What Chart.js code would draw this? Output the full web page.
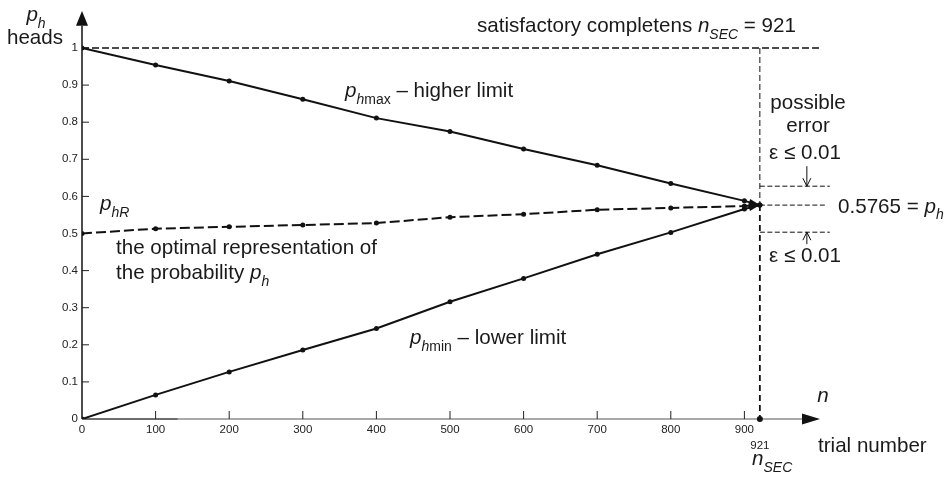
<!DOCTYPE html>
<html><head><meta charset="utf-8">
<script src="https://cdn.jsdelivr.net/npm/chart.js@4.4.1/dist/chart.umd.min.js"></script>
<style>html,body{margin:0;padding:0;background:#fff;}#wrap{width:950px;height:478px;}</style>
</head><body><div id="wrap"><canvas id="c" width="950" height="478"></canvas></div>
<script>
const trialNumbers = [0, 100, 200, 300, 400, 500, 600, 700, 800, 900, 921];
const phMax = [1, 0.954, 0.911, 0.862, 0.811, 0.775, 0.728, 0.684, 0.635, 0.588, 0.5765];
const phR   = [0.5, 0.513, 0.518, 0.523, 0.528, 0.544, 0.552, 0.564, 0.569, 0.574, 0.5765];
const phMin = [0, 0.065, 0.127, 0.186, 0.244, 0.316, 0.379, 0.444, 0.503, 0.566, 0.5765];
const xTickLabels = ['0', '100', '200', '300', '400', '500', '600', '700', '800', '900'];
const yTickLabels = ['0', '0.1', '0.2', '0.3', '0.4', '0.5', '0.6', '0.7', '0.8', '0.9', '1'];
const nSEC = 921;
const phFinal = 0.5765;
const epsLabel = 'ε ≤ 0.01';

const F = '"Liberation Sans", Arial, Helvetica, sans-serif';
const INK = '#111';

function pts(arr) { return trialNumbers.map((x, i) => ({x: x, y: arr[i]})); }

function rich(ctx, parts, x, y, size, align) {
  const sub = size * 0.68;
  const setF = p => { ctx.font = (p.i ? 'italic ' : '') + (p.sub ? sub : size) + 'px ' + F; };
  const widths = parts.map(p => { setF(p); return ctx.measureText(p.t).width; });
  const total = widths.reduce((a, b) => a + b, 0);
  let cx = align === 'center' ? x - total / 2 : (align === 'right' ? x - total : x);
  ctx.textAlign = 'left';
  ctx.textBaseline = 'alphabetic';
  const base = y + size * 0.36;
  parts.forEach((p, k) => {
    setF(p);
    ctx.fillText(p.t, cx, base + (p.sub ? size * 0.3 : 0));
    cx += widths[k];
  });
}

function line(ctx, x1, y1, x2, y2, w, color, dash) {
  ctx.save();
  ctx.beginPath();
  ctx.lineWidth = w;
  ctx.strokeStyle = color;
  ctx.setLineDash(dash || []);
  ctx.moveTo(x1, y1); ctx.lineTo(x2, y2);
  ctx.stroke();
  ctx.restore();
}

function tri(ctx, tx, ty, bx, by, half) {
  const dx = tx - bx, dy = ty - by, L = Math.hypot(dx, dy);
  const nx = -dy / L, ny = dx / L;
  ctx.beginPath();
  ctx.moveTo(tx, ty);
  ctx.lineTo(bx + nx * half, by + ny * half);
  ctx.lineTo(bx - nx * half, by - ny * half);
  ctx.closePath();
  ctx.fill();
}

const deco = {
  id: 'deco',
  beforeDatasetsDraw(chart) {
    const ctx = chart.ctx, xs = chart.scales.x, ys = chart.scales.y;
    const x0 = xs.getPixelForValue(0), y0 = ys.getPixelForValue(0);
    const xN = xs.getPixelForValue(nSEC), y1 = ys.getPixelForValue(1);
    const yP = ys.getPixelForValue(phFinal);
    const xEnd = xs.getPixelForValue(1000);
    ctx.save();
    // x axis
    line(ctx, x0, y0, xEnd - 16, y0, 1.5, '#8c8c8c');
    line(ctx, x0, y0, xs.getPixelForValue(130), y0, 1, '#333');
    ctx.fillStyle = INK;
    tri(ctx, xEnd + 2, y0, xEnd - 16, y0, 5.5);
    // y axis
    line(ctx, x0, y0, x0, ys.getPixelForValue(1.06), 1.5, INK);
    tri(ctx, x0, ys.getPixelForValue(1.1), x0, ys.getPixelForValue(1.06), 6);
    // ticks inside
    for (let i = 1; i < xTickLabels.length; i++) {
      const px = xs.getPixelForValue(i * 100);
      line(ctx, px, y0, px, y0 - 8, 1, '#222');
    }
    for (let i = 1; i < yTickLabels.length; i++) {
      const py = ys.getPixelForValue(i / 10);
      line(ctx, x0, py, x0 + 7, py, 1, '#222');
    }
    // horizontal dashed at 1
    line(ctx, x0, y1, xEnd + 2, y1, 1.5, INK, [7, 3]);
    // vertical dashed at nSEC
    line(ctx, xN, y1, xN, yP, 1, INK, [6, 3]);
    line(ctx, xN, yP, xN, y0, 1.8, INK, [6, 4]);
    // epsilon band lines
    const yU = ys.getPixelForValue(0.6275), yL = ys.getPixelForValue(0.5035);
    line(ctx, xN, yU, xN + 70, yU, 1, INK, [5, 2.5]);
    line(ctx, xN, yP, xN + 65, yP, 1, INK, [5, 2.5]);
    line(ctx, xN, yL, xN + 70, yL, 1, INK, [5, 2.5]);
    ctx.restore();
  },
  afterDatasetsDraw(chart) {
    const ctx = chart.ctx, xs = chart.scales.x, ys = chart.scales.y;
    const xN = xs.getPixelForValue(nSEC), y0 = ys.getPixelForValue(0);
    const yP = ys.getPixelForValue(phFinal);
    ctx.save();
    ctx.fillStyle = INK;
    // arrowheads at convergence
    [phMax, phR, phMin].forEach(arr => {
      const n = arr.length;
      const bx = xs.getPixelForValue(trialNumbers[n - 2]), by = ys.getPixelForValue(arr[n - 2]);
      const tx = xs.getPixelForValue(trialNumbers[n - 1]), ty = ys.getPixelForValue(arr[n - 1]);
      const L = Math.hypot(tx - bx, ty - by);
      const ax = tx - (tx - bx) / L * 11, ay = ty - (ty - by) / L * 11;
      tri(ctx, tx, ty, ax, ay, 3.2);
    });
    // dot on x axis at nSEC
    ctx.beginPath(); ctx.arc(xN, y0, 3, 0, Math.PI * 2); ctx.fill();
    // epsilon arrows
    const yU = ys.getPixelForValue(0.6275), yL = ys.getPixelForValue(0.5035);
    const ax = xN + 47;
    line(ctx, ax, yU - 20, ax, yU, 1, INK);
    line(ctx, ax - 4, yU - 8, ax, yU, 1, INK);
    line(ctx, ax + 4, yU - 8, ax, yU, 1, INK);
    line(ctx, ax, yL + 12, ax, yL, 1, INK);
    line(ctx, ax - 4, yL + 8, ax, yL, 1, INK);
    line(ctx, ax + 4, yL + 8, ax, yL, 1, INK);

    ctx.fillStyle = '#1a1a1a';
    const S = 20.6;
    rich(ctx, [{t: 'p', i: 1}, {t: 'h', i: 1, sub: 1}], 36, 14, S, 'center');
    rich(ctx, [{t: 'heads'}], 35, 37, S, 'center');
    rich(ctx, [{t: 'satisfactory completens '}, {t: 'n', i: 1}, {t: 'SEC', i: 1, sub: 1}, {t: ' = ' + nSEC}], 477, 25, S, 'left');
    rich(ctx, [{t: 'p', i: 1}, {t: 'h', i: 1, sub: 1}, {t: 'max', sub: 1}, {t: ' – higher limit'}], 345, 90, S, 'left');
    rich(ctx, [{t: 'p', i: 1}, {t: 'hR', i: 1, sub: 1}], 100, 203, S, 'left');
    rich(ctx, [{t: 'the optimal representation of'}], 116, 247, S, 'left');
    rich(ctx, [{t: 'the probability '}, {t: 'p', i: 1}, {t: 'h', i: 1, sub: 1}], 116, 272, S, 'left');
    rich(ctx, [{t: 'p', i: 1}, {t: 'h', i: 1, sub: 1}, {t: 'min', sub: 1}, {t: ' – lower limit'}], 410, 337, S, 'left');
    rich(ctx, [{t: 'possible'}], 808, 102, S, 'center');
    rich(ctx, [{t: 'error'}], 808, 125, S, 'center');
    rich(ctx, [{t: epsLabel}], 769, 152, S, 'left');
    rich(ctx, [{t: String(phFinal) + ' = '}, {t: 'p', i: 1}, {t: 'h', i: 1, sub: 1}], 838, yP, S, 'left');
    rich(ctx, [{t: epsLabel}], 769, 255, S, 'left');
    rich(ctx, [{t: 'n', i: 1}], 823, 395, S, 'center');
    rich(ctx, [{t: String(nSEC)}], xN, 445, 11.5, 'center');
    rich(ctx, [{t: 'n', i: 1}, {t: 'SEC', i: 1, sub: 1}], 752, 458, S, 'left');
    rich(ctx, [{t: 'trial number'}], 818, 445, S, 'left');
    ctx.restore();
  }
};

const common = {borderColor: INK, backgroundColor: INK, pointRadius: 2.5, pointHoverRadius: 2.5,
  pointBackgroundColor: INK, pointBorderWidth: 0, borderWidth: 2, tension: 0, fill: false};

new Chart(document.getElementById('c'), {
  type: 'line',
  data: {
    datasets: [
      Object.assign({label: 'phmax', data: pts(phMax)}, common),
      Object.assign({label: 'phR', data: pts(phR), borderDash: [10, 4]}, common),
      Object.assign({label: 'phmin', data: pts(phMin)}, common)
    ]
  },
  options: {
    responsive: false,
    animation: false,
    devicePixelRatio: 1,
    layout: {padding: {top: 8, right: 132, left: 0, bottom: 0}},
    plugins: {legend: {display: false}, tooltip: {enabled: false}},
    scales: {
      x: {
        type: 'linear', min: 0, max: 1000,
        afterFit(s) { s.height = 59; },
        border: {display: false},
        grid: {display: false, drawTicks: false},
        ticks: {stepSize: 100, padding: 4, color: '#222', maxRotation: 0, autoSkip: false,
          font: {family: F, size: 11.5},
          callback(v) { const i = Math.round(v / 100); return (Math.abs(v - i * 100) < 1e-6 && xTickLabels[i] !== undefined) ? xTickLabels[i] : ''; }}
      },
      y: {
        type: 'linear', min: 0, max: 1.1,
        afterFit(s) { s.width = 82; },
        border: {display: false},
        grid: {display: false, drawTicks: false},
        ticks: {stepSize: 0.1, padding: 4, color: '#222', autoSkip: false,
          font: {family: F, size: 11.5},
          callback(v) { const i = Math.round(v * 10); return yTickLabels[i] !== undefined ? yTickLabels[i] : ''; }}
      }
    }
  },
  plugins: [deco]
});
</script>
</body></html>
